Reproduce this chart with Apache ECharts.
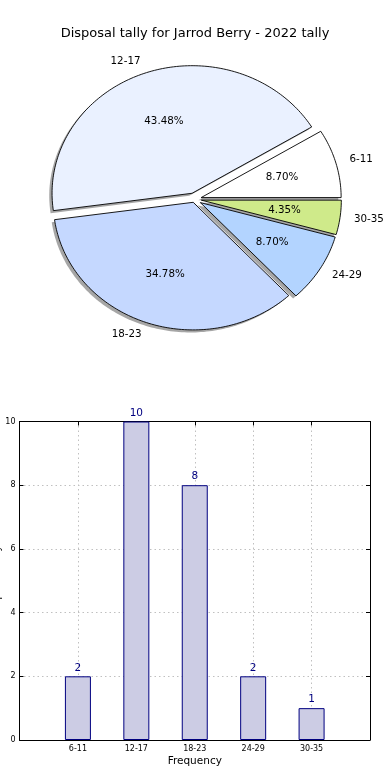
<!DOCTYPE html>
<html>
<head>
<meta charset="utf-8">
<script src="https://cdn.jsdelivr.net/npm/echarts@6/dist/echarts.min.js"></script>
<style>html,body{margin:0;padding:0;background:#fff}#c{width:390px;height:780px}</style>
</head>
<body>
<div id="c"></div>
<script>
const titleText = 'Disposal tally for Jarrod Berry - 2022 tally';
const categories = ['6-11', '12-17', '18-23', '24-29', '30-35'];
const tally = [2, 10, 8, 2, 1];
const pieColors = ['#ffffff', '#eaf1ff', '#c5d8ff', '#b3d4ff', '#cfea8a'];
const explode = [0.05, 0.05, 0.025, 0.05, 0.05];
const xAxisName = 'Frequency';
const yAxisName = 'Disposal Tally';

const FONT = 'DejaVu Sans';
const total = tally.reduce((a, b) => a + b, 0);
const cum = [];
tally.reduce((acc, v, i) => { cum[i] = acc; return acc + v; }, 0);

function sliceGeom(i) {
  const a0 = 2 * Math.PI * cum[i] / total;
  const a1 = 2 * Math.PI * (cum[i] + tally[i]) / total;
  const mid = (a0 + a1) / 2;
  const ox = explode[i] * Math.cos(mid), oy = explode[i] * Math.sin(mid);
  return { a0, a1, mid, ox, oy };
}
function slicePoints(api, i, dx, dy) {
  const g = sliceGeom(i);
  const pts = [api.coord([g.ox + dx, g.oy + dy])];
  const n = Math.max(8, Math.ceil((g.a1 - g.a0) / 0.02));
  for (let k = 0; k <= n; k++) {
    const t = g.a0 + (g.a1 - g.a0) * k / n;
    pts.push(api.coord([g.ox + dx + Math.cos(t), g.oy + dy + Math.sin(t)]));
  }
  return pts;
}

const sliceIdx = categories.map((c, i) => [i]);

const chart = echarts.init(document.getElementById('c'), null, { renderer: 'canvas' });
chart.setOption({
  animation: false,
  backgroundColor: '#fff',
  title: {
    text: titleText, left: 'center', top: 22,
    textStyle: { fontFamily: FONT, fontSize: 13, fontWeight: 'normal', color: '#000' }
  },
  grid: [
    { left: 54.4, top: 71.7, width: 280, height: 255.2, show: false, containLabel: false, outerBoundsMode: 'none' },
    { left: 19.5, right: 20, top: 421.5, bottom: 40, show: false, containLabel: false, outerBoundsMode: 'none' }
  ],
  xAxis: [
    { gridIndex: 0, type: 'value', min: -1, max: 1, show: false },
    {
      gridIndex: 1, type: 'value', min: 0, max: 6, interval: 1,
      axisLine: { show: true, onZero: false, lineStyle: { color: '#000', width: 1 } },
      axisTick: { show: true, inside: true, length: 4, lineStyle: { color: '#000' } },
      axisLabel: {
        fontFamily: FONT, fontSize: 8, color: '#000', margin: 5,
        formatter: v => categories[v - 1] || ''
      },
      splitLine: { show: true, lineStyle: { color: '#c0c0c0', type: [1.5, 3], width: 1 } },
      name: xAxisName, nameLocation: 'middle', nameGap: 16, nameMoveOverlap: false,
      nameTextStyle: { fontFamily: FONT, fontSize: 10.5, color: '#000' }
    },
    {
      gridIndex: 1, type: 'value', min: 0, max: 6, interval: 1, position: 'top',
      axisLine: { show: true, onZero: false, lineStyle: { color: '#000', width: 1 } },
      axisTick: { show: true, inside: true, length: 4, lineStyle: { color: '#000' } },
      axisLabel: { show: false }, splitLine: { show: false }
    }
  ],
  yAxis: [
    { gridIndex: 0, type: 'value', min: -1, max: 1, show: false },
    {
      gridIndex: 1, type: 'value', min: 0, max: 10, interval: 2,
      axisLine: { show: true, onZero: false, lineStyle: { color: '#000', width: 1 } },
      axisTick: { show: true, inside: true, length: 4, lineStyle: { color: '#000' } },
      axisLabel: { fontFamily: FONT, fontSize: 8, color: '#000', margin: 4 },
      splitLine: { show: true, lineStyle: { color: '#c0c0c0', type: [1.5, 3], width: 1 } },
      name: yAxisName, nameLocation: 'middle', nameGap: 17, nameMoveOverlap: false,
      nameTextStyle: { fontFamily: FONT, fontSize: 10.5, color: '#000' }
    },
    {
      gridIndex: 1, type: 'value', min: 0, max: 10, interval: 2, position: 'right',
      axisLine: { show: true, onZero: false, lineStyle: { color: '#000', width: 1 } },
      axisTick: { show: true, inside: true, length: 4, lineStyle: { color: '#000' } },
      axisLabel: { show: false }, splitLine: { show: false }
    }
  ],
  series: [
    {
      type: 'custom', name: 'shadow', xAxisIndex: 0, yAxisIndex: 0, clip: false, z: 1,
      data: sliceIdx,
      renderItem: function (params, api) {
        const i = params.dataIndex;
        return {
          type: 'polygon',
          shape: { points: slicePoints(api, i, -0.02, -0.02) },
          style: { fill: 'rgba(77,77,77,0.5)', stroke: null }
        };
      }
    },
    {
      type: 'custom', name: 'pie', xAxisIndex: 0, yAxisIndex: 0, clip: false, z: 2,
      data: sliceIdx,
      renderItem: function (params, api) {
        const i = params.dataIndex;
        const g = sliceGeom(i);
        const lp = api.coord([g.ox + 1.1 * Math.cos(g.mid), g.oy + 1.1 * Math.sin(g.mid)]);
        const pp = api.coord([g.ox + 0.6 * Math.cos(g.mid), g.oy + 0.6 * Math.sin(g.mid)]);
        const pct = (tally[i] / total * 100).toFixed(2) + '%';
        return {
          type: 'group',
          children: [
            {
              type: 'polygon',
              shape: { points: slicePoints(api, i, 0, 0) },
              style: { fill: pieColors[i], stroke: '#000', lineWidth: 0.9 }
            },
            {
              type: 'text', x: lp[0], y: lp[1],
              style: {
                text: categories[i], font: '10.3px "' + FONT + '"', fill: '#000',
                align: Math.cos(g.mid) > 0 ? 'left' : 'right', verticalAlign: 'middle'
              }
            },
            {
              type: 'text', x: pp[0], y: pp[1],
              style: {
                text: pct, font: '10.3px "' + FONT + '"', fill: '#000',
                align: 'center', verticalAlign: 'middle'
              }
            }
          ]
        };
      }
    },
    {
      type: 'bar', xAxisIndex: 1, yAxisIndex: 1, barWidth: 26,
      data: categories.map((c, i) => [i + 1, tally[i]]),
      itemStyle: { color: '#ccccE4', borderColor: '#000080', borderWidth: 1 },
      label: {
        show: true, position: 'top', distance: 3, color: '#000080',
        fontFamily: FONT, fontSize: 10.5,
        formatter: p => String(p.value[1])
      }
    }
  ]
});
</script>
</body>
</html>
